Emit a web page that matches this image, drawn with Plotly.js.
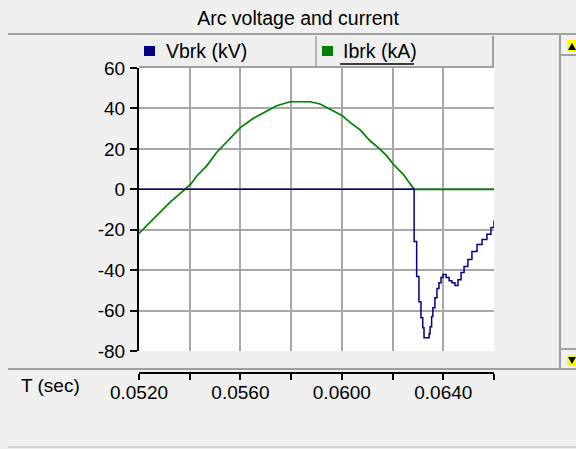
<!DOCTYPE html>
<html>
<head>
<meta charset="utf-8">
<script src="https://cdn.plot.ly/plotly-3.0.1.min.js"></script>
<style>
  html, body { margin: 0; padding: 0; background: #f0f0f0; }
  #chart { width: 576px; height: 449px; }
</style>
</head>
<body>
<div id="chart"></div>
<script>
// ---- data ----
const chartTitle = "Arc voltage and current";
const seriesNames = ["Vbrk (kV)", "Ibrk (kA)"];
const xAxisLabel = "T (sec)";

// Ibrk (kA)
const tI = [0.05200, 0.05256, 0.05322, 0.05381, 0.05404, 0.05428, 0.05467, 0.05506, 0.05532,
            0.05601, 0.05651, 0.05704, 0.05743, 0.05796, 0.05874, 0.05914, 0.05953, 0.06002,
            0.06032, 0.06072, 0.06111, 0.06150, 0.06177, 0.06203, 0.06242, 0.06269, 0.06285, 0.06600];
const ibrk = [-21.8, -14.9, -6.5, 0.0, 2.5, 6.6, 11.6, 18.2, 21.5,
              30.6, 35.1, 38.9, 41.3, 43.3, 43.3, 42.2, 39.7, 36.4,
              33.1, 29.4, 24.0, 19.9, 16.5, 12.4, 7.4, 2.5, 0.0, 0.0];

// Vbrk (kV)
const tV = [0.05200, 0.06285, 0.06295, 0.06304, 0.06312, 0.06319, 0.06324, 0.06344, 0.06348,
            0.06354, 0.06359, 0.06367, 0.06375, 0.06383, 0.06391, 0.06399, 0.06411, 0.06423,
            0.06434, 0.06446, 0.06458, 0.06470, 0.06482, 0.06497, 0.06513, 0.06533, 0.06553,
            0.06572, 0.06588, 0.06600];
const vbrk = [0.0, -25.8, -43.2, -55.6, -63.5, -68.5, -73.4, -71.5, -68.0,
              -62.9, -58.6, -53.6, -49.1, -46.2, -43.7, -42.2, -43.7, -45.2,
              -46.2, -47.6, -44.7, -41.2, -38.2, -34.7, -30.8, -27.3, -24.8,
              -22.3, -18.9, -15.4];

// axes
const xRange = [0.052, 0.066];
const yRange = [-80, 60];
const yTickVals = [-80, -60, -40, -20, 0, 20, 40, 60];
const yTickText = ["-80", "-60", "-40", "-20", "0", "20", "40", "60"];
const xGridVals = [0.054, 0.056, 0.058, 0.060, 0.062, 0.064];
const xTickVals = [0.052, 0.054, 0.056, 0.058, 0.060, 0.062, 0.064, 0.066];
const xTickText = ["0.0520", "", "0.0560", "", "0.0600", "", "0.0640", ""];

// ---- styling / layout ----
const colV = "#000080", colI = "#008000";
const FONT = "Liberation Sans, Arial, sans-serif";
const FS = 19;
const GRID = "#a8a8a8";
const FRAME = "#a0a0a0";

const L = 139, R = 494, T = 68, B = 373;
const W = R - L, H = B - T;
const px = x => (x - L) / W;
const py = y => (B - y) / H;

const traces = [
  { x: tI, y: ibrk, xaxis: "x", yaxis: "y", type: "scatter", mode: "lines",
    name: seriesNames[1], line: { color: colI, width: 1.7 }, hoverinfo: "skip" },
  { x: tV, y: vbrk, xaxis: "x2", yaxis: "y", type: "scatter", mode: "lines",
    name: seriesNames[0], line: { color: colV, width: 1.5, shape: "hv" }, hoverinfo: "skip" }
];

function hline(x0, x1, y, color, w) {
  return { type: "line", xref: "paper", yref: "paper", x0: px(x0), x1: px(x1), y0: py(y), y1: py(y),
           line: { color: color, width: w }, layer: "above" };
}
function vline(x, y0, y1, color, w) {
  return { type: "line", xref: "paper", yref: "paper", x0: px(x), x1: px(x), y0: py(y0), y1: py(y1),
           line: { color: color, width: w }, layer: "above" };
}
function rect(x0, y0, x1, y1, fill) {
  return { type: "rect", xref: "paper", yref: "paper", x0: px(x0), x1: px(x1), y0: py(y0), y1: py(y1),
           fillcolor: fill, line: { width: 0 }, layer: "above" };
}
function tri(x0, x1, yBase, yTip) {
  const xm = (x0 + x1) / 2;
  return { type: "path", xref: "paper", yref: "paper",
           path: `M ${px(x0)} ${py(yBase)} L ${px(x1)} ${py(yBase)} L ${px(xm)} ${py(yTip)} Z`,
           fillcolor: "#000", line: { width: 0 }, layer: "above" };
}

const shapes = [
  // title separator
  hline(8, 576, 34, FRAME, 2),
  // legend box
  rect(139, 36, 494, 67, "#efefef"),
  hline(139, 494, 67, FRAME, 2),
  vline(493, 36, 68, FRAME, 2),
  vline(316, 36, 67, FRAME, 1.5),
  rect(144, 46, 155, 56, colV),
  rect(322, 46, 333, 56, colI),
  hline(340, 414, 64, "#000", 1.5),
  // scrollbar
  vline(560, 34, 369, FRAME, 2),
  hline(561, 576, 55, FRAME, 2),
  hline(561, 576, 349, FRAME, 2),
  rect(567, 40, 576, 52, "#ffff00"),
  tri(568, 576, 50, 43),
  rect(567, 355, 576, 366, "#ffff00"),
  tri(568, 576, 357, 364),
  // bottom separators
  hline(8, 576, 369, FRAME, 2),
  hline(8, 576, 447, "#c8c8c8", 1.5)
];

const annotations = [
  { text: seriesNames[0], xref: "paper", yref: "paper", x: px(164), y: py(51),
    xanchor: "left", yanchor: "middle", showarrow: false, font: { family: FONT, size: FS + 0.5, color: "#000" } },
  { text: seriesNames[1], xref: "paper", yref: "paper", x: px(341), y: py(51),
    xanchor: "left", yanchor: "middle", showarrow: false, font: { family: FONT, size: FS + 0.5, color: "#000" } },
  { text: xAxisLabel, xref: "paper", yref: "paper", x: px(19), y: py(385),
    xanchor: "left", yanchor: "middle", showarrow: false, font: { family: FONT, size: FS, color: "#000" } }
];

const layout = {
  width: 576, height: 449,
  margin: { l: L, r: 576 - R, t: T, b: 449 - B, pad: 0 },
  paper_bgcolor: "#f0f0f0",
  plot_bgcolor: "#ffffff",
  showlegend: false,
  font: { family: FONT, size: FS, color: "#000" },
  title: { text: chartTitle, xref: "container", yref: "container", x: 298 / 576, y: 1 - 18 / 449,
           xanchor: "center", yanchor: "middle", font: { family: FONT, size: FS + 0.5, color: "#000" } },
  xaxis: { range: xRange, domain: [0, 1], anchor: "y", tickmode: "array", tickvals: xGridVals,
           showticklabels: false, ticks: "", showgrid: true, gridcolor: GRID, gridwidth: 2,
           showline: false, zeroline: false, fixedrange: true },
  xaxis2: { range: xRange, overlaying: "x", anchor: "free", position: 0, side: "bottom",
            tickmode: "array", tickvals: xTickVals, ticktext: xTickText,
            ticks: "outside", ticklen: 6, tickwidth: 2, tickcolor: "#000", ticklabelstandoff: -4,
            showline: true, linecolor: "#000", linewidth: 2, showgrid: false, zeroline: false,
            tickfont: { family: FONT, size: FS, color: "#000" }, fixedrange: true },
  yaxis: { range: yRange, domain: [py(351), 1], anchor: "x", tickmode: "array",
           tickvals: yTickVals, ticktext: yTickText,
           ticks: "outside", ticklen: 7, tickwidth: 2, tickcolor: "#000", ticklabelstandoff: 1,
           showline: true, linecolor: "#000", linewidth: 2,
           showgrid: true, gridcolor: GRID, gridwidth: 2, zeroline: false,
           tickfont: { family: FONT, size: FS, color: "#000" }, fixedrange: true },
  shapes: shapes,
  annotations: annotations
};

Plotly.newPlot("chart", traces, layout, { staticPlot: true, displayModeBar: false });
</script>
</body>
</html>
